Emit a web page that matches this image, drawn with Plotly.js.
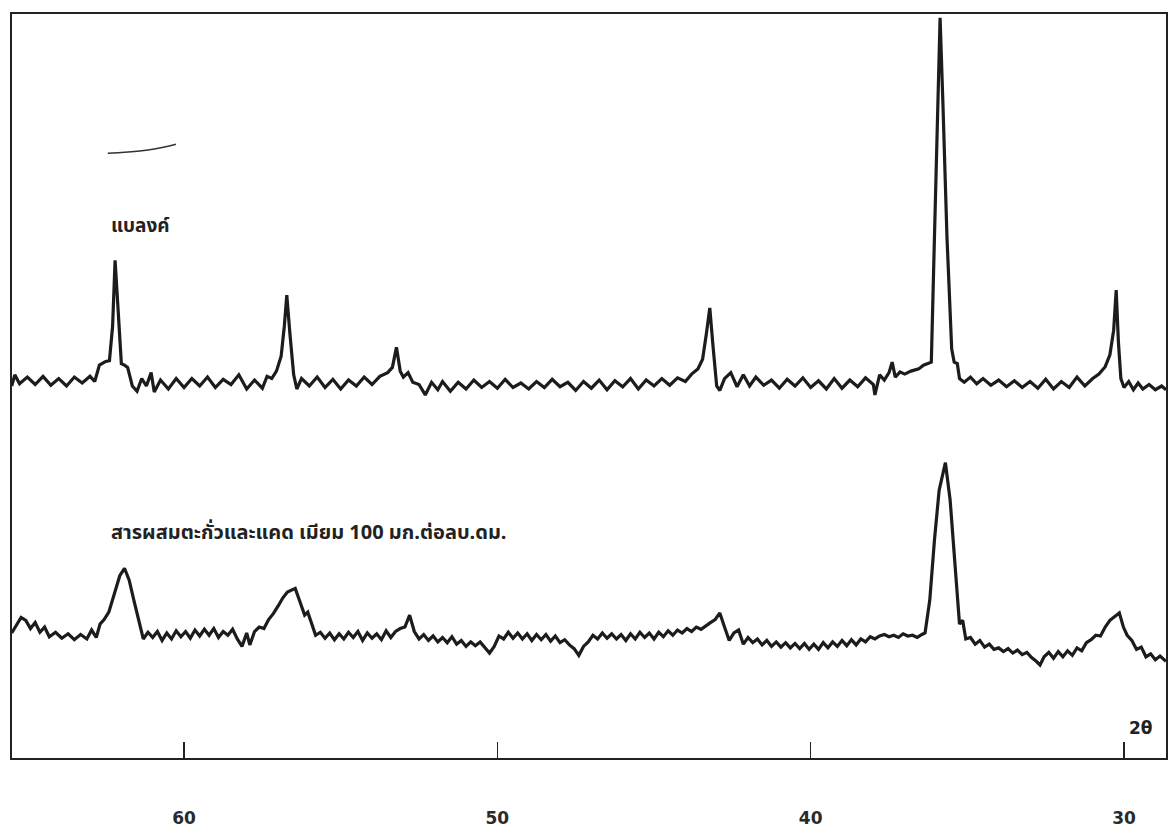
<!DOCTYPE html>
<html>
<head>
<meta charset="utf-8">
<script src="https://cdn.plot.ly/plotly-3.0.1.min.js"></script>
<style>
html,body{margin:0;padding:0;background:#fff;}
#chart{width:1169px;height:835px;}
</style>
</head>
<body>
<div id="chart"></div>
<script>
// 2θ (degrees) and relative intensity (arbitrary units)
const blankX = [65.50,65.40,65.25,65.00,64.75,64.50,64.25,64.00,63.75,63.50,63.25,63.00,62.85,62.70,62.50,62.38,62.28,62.20,62.10,62.00,61.90,61.80,61.65,61.50,61.35,61.20,61.05,60.95,60.75,60.50,60.25,60.00,59.75,59.50,59.25,59.00,58.75,58.50,58.25,58.00,57.75,57.50,57.35,57.20,57.05,56.90,56.80,56.72,56.62,56.50,56.40,56.25,56.00,55.75,55.50,55.25,55.00,54.75,54.50,54.25,54.00,53.75,53.50,53.35,53.22,53.10,53.00,52.85,52.70,52.50,52.30,52.10,51.90,51.75,51.50,51.25,51.00,50.75,50.50,50.25,50.00,49.75,49.50,49.25,49.00,48.75,48.50,48.25,48.00,47.75,47.50,47.25,47.00,46.75,46.50,46.25,46.00,45.75,45.50,45.25,45.00,44.75,44.50,44.25,44.00,43.80,43.60,43.45,43.33,43.22,43.12,43.00,42.90,42.75,42.55,42.35,42.15,41.95,41.75,41.50,41.25,41.00,40.75,40.50,40.25,40.00,39.75,39.50,39.25,39.00,38.75,38.50,38.25,38.00,37.95,37.80,37.65,37.50,37.40,37.30,37.15,37.00,36.80,36.55,36.40,36.25,36.15,36.05,35.95,35.87,35.78,35.65,35.50,35.42,35.32,35.25,35.10,34.90,34.70,34.50,34.25,34.00,33.75,33.50,33.25,33.00,32.75,32.50,32.25,32.00,31.75,31.50,31.25,31.00,30.80,30.60,30.45,30.33,30.25,30.18,30.10,30.00,29.85,29.70,29.55,29.40,29.20,29.00,28.80,28.66];
const blankY = [50.0,51.5,50.3,51.2,50.2,51.3,50.1,51.0,50.0,51.2,50.4,51.3,50.6,52.8,53.3,53.4,58.0,66.9,60.0,53.0,52.8,52.5,50.0,49.3,51.0,50.0,51.8,49.2,50.8,49.6,51.0,49.8,51.0,50.0,51.2,49.8,50.9,50.2,51.5,49.6,50.8,49.7,51.3,51.0,52.0,54.0,58.0,62.2,57.0,51.5,49.6,51.0,50.0,51.2,49.8,50.9,49.6,50.8,50.0,51.2,50.2,51.3,51.8,52.5,55.2,52.0,51.2,51.8,50.5,50.2,48.8,50.5,49.5,50.6,49.3,50.5,49.6,50.8,49.8,50.6,49.7,50.9,49.8,50.4,49.6,50.6,49.8,50.9,49.9,50.5,49.4,50.6,49.7,50.8,49.5,50.7,49.9,51.0,49.6,50.8,50.0,51.0,50.1,51.1,50.6,51.6,52.3,53.6,57.0,60.5,55.5,50.0,49.4,51.0,51.8,49.9,51.5,50.0,51.2,50.1,50.8,49.7,50.9,50.0,51.1,49.8,50.7,49.6,51.0,49.7,50.8,49.9,51.1,50.2,48.8,51.5,50.8,51.8,53.2,51.2,51.9,51.6,52.0,52.3,52.8,53.0,53.2,70.0,88.0,99.5,88.0,70.0,55.0,53.2,53.0,51.0,50.5,51.2,50.3,51.0,50.1,50.8,49.9,50.7,49.8,50.6,49.7,50.9,49.6,50.6,49.8,51.2,50.0,51.0,51.6,52.6,54.2,57.5,62.9,56.0,51.0,49.8,50.6,49.5,50.4,49.6,50.2,49.5,50.0,49.5];

const mixX = [65.50,65.35,65.20,65.05,64.90,64.75,64.60,64.45,64.30,64.10,63.90,63.70,63.50,63.30,63.10,62.95,62.80,62.68,62.55,62.40,62.20,62.05,61.90,61.75,61.60,61.45,61.30,61.15,61.00,60.85,60.70,60.55,60.40,60.25,60.10,59.95,59.80,59.65,59.50,59.35,59.20,59.05,58.90,58.75,58.60,58.45,58.30,58.15,58.00,57.90,57.75,57.60,57.45,57.30,57.15,57.00,56.85,56.70,56.45,56.30,56.15,56.05,55.92,55.80,55.65,55.50,55.35,55.20,55.05,54.90,54.75,54.60,54.45,54.30,54.15,54.00,53.85,53.70,53.55,53.40,53.25,53.10,52.95,52.80,52.65,52.50,52.35,52.20,52.05,51.90,51.75,51.60,51.45,51.30,51.15,51.00,50.85,50.70,50.55,50.40,50.25,50.10,49.95,49.80,49.65,49.50,49.35,49.20,49.05,48.90,48.75,48.60,48.45,48.30,48.15,48.00,47.85,47.70,47.55,47.40,47.25,47.10,46.95,46.80,46.65,46.50,46.35,46.20,46.05,45.90,45.75,45.60,45.45,45.30,45.15,45.00,44.85,44.70,44.55,44.40,44.25,44.10,43.95,43.80,43.65,43.50,43.35,43.20,43.05,42.90,42.75,42.60,42.45,42.30,42.15,42.00,41.85,41.70,41.55,41.40,41.25,41.10,40.95,40.80,40.65,40.50,40.35,40.20,40.05,39.90,39.75,39.60,39.45,39.30,39.15,39.00,38.85,38.70,38.55,38.40,38.25,38.10,37.95,37.80,37.65,37.50,37.35,37.20,37.05,36.90,36.75,36.60,36.45,36.35,36.20,36.05,35.90,35.70,35.55,35.40,35.25,35.15,35.05,34.90,34.75,34.60,34.45,34.30,34.15,34.00,33.85,33.70,33.55,33.40,33.25,33.10,32.95,32.80,32.68,32.55,32.40,32.25,32.10,31.95,31.80,31.65,31.50,31.35,31.20,31.05,30.90,30.75,30.60,30.45,30.30,30.15,30.02,29.90,29.75,29.60,29.45,29.30,29.15,29.00,28.85,28.66];
const mixY = [16.8,17.8,18.9,18.5,17.4,18.2,16.9,17.6,16.3,16.9,16.1,16.7,15.9,16.6,16.0,17.2,16.2,18.0,18.6,19.6,22.6,24.5,25.5,23.9,21.2,18.5,16.0,16.9,16.2,17.0,15.8,16.8,16.0,17.1,16.3,17.0,16.1,17.2,16.4,17.3,16.5,17.4,16.2,17.0,16.5,17.3,16.0,15.0,16.8,15.2,17.0,17.6,17.4,18.6,19.4,20.4,21.5,22.3,22.8,21.0,19.2,19.6,18.0,16.5,16.9,16.1,16.8,15.9,16.7,16.0,16.9,16.2,17.0,15.8,16.8,16.1,16.7,15.9,17.1,16.2,17.0,17.4,17.6,19.2,17.0,16.0,16.6,15.8,16.4,15.6,16.2,15.5,16.3,15.3,15.8,15.0,15.6,15.1,15.6,14.8,14.1,15.0,16.4,16.0,16.9,16.1,16.8,16.0,16.7,15.8,16.6,15.9,16.6,15.7,16.4,15.5,15.9,15.2,14.7,13.8,15.0,15.6,16.5,16.0,16.8,16.1,16.7,16.0,16.6,15.8,16.7,16.0,16.9,16.2,16.8,16.0,16.9,16.3,17.1,16.5,17.2,16.8,17.4,17.0,17.6,17.3,17.8,18.2,18.6,19.5,17.6,15.8,16.8,17.2,15.3,16.2,15.5,16.0,15.2,15.8,15.0,15.6,14.9,15.5,14.8,15.4,14.7,15.4,14.6,15.3,14.6,15.5,14.8,15.6,15.0,15.8,15.1,15.9,15.2,16.0,15.6,16.3,16.0,16.4,16.6,16.3,16.5,16.2,16.7,16.4,16.5,16.2,16.6,16.8,21.2,29.3,36.0,39.7,34.7,26.6,18.0,18.5,16.0,16.2,15.3,15.8,14.9,15.3,14.6,14.8,14.3,14.7,14.1,14.5,13.9,14.2,13.5,13.0,12.5,13.6,14.2,13.4,14.3,13.6,14.4,13.8,14.8,14.4,15.5,15.9,16.5,16.4,17.6,18.5,19.0,19.5,17.6,16.5,15.8,14.6,14.9,13.6,14.0,13.2,13.7,13.0];

const tickVals = [60, 50, 40, 30];
const tickText = ['60', '50', '40', '30'];
const labelBlank = 'แบลงค์';
const labelMix = 'สารผสมตะกั่วและแคด เมียม 100 มก.ต่อลบ.ดม.';
const axisLabel = '2θ';

const lineStyle = {color: '#1c1c1c', width: 3.2, shape: 'linear'};

const traces = [
  {x: blankX, y: blankY, type: 'scatter', mode: 'lines', line: lineStyle, name: labelBlank, hoverinfo: 'x+y'},
  {x: mixX, y: mixY, type: 'scatter', mode: 'lines', line: lineStyle, name: labelMix, hoverinfo: 'x+y'}
];

const thaiFont = '"Noto Sans Thai", "Noto Sans", "DejaVu Sans", sans-serif';

const layout = {
  width: 1169, height: 835,
  margin: {l: 12, r: 3, t: 14, b: 77},
  paper_bgcolor: '#ffffff', plot_bgcolor: '#ffffff',
  showlegend: false,
  font: {family: '"DejaVu Sans", sans-serif', color: '#222'},
  xaxis: {
    range: [65.49, 28.66],
    showgrid: false, zeroline: false,
    showline: true, mirror: true, linecolor: '#222', linewidth: 2,
    ticks: 'inside', ticklen: 16, tickwidth: 1.5, tickcolor: '#222',
    tickvals: tickVals, ticktext: tickText,
    tickfont: {size: 17, color: '#2a2a2a', family: '"DejaVu Sans", sans-serif', weight: 'bold'},
    ticklabelstandoff: 44
  },
  yaxis: {
    range: [0, 100],
    showgrid: false, zeroline: false,
    showline: true, mirror: true, linecolor: '#222', linewidth: 2,
    showticklabels: false, ticks: ''
  },
  annotations: [
    {text: labelBlank, x: 62.4, y: 71.5, xref: 'x', yref: 'y', xanchor: 'left', yanchor: 'middle', showarrow: false,
     font: {size: 19, color: '#222', family: thaiFont, weight: 'bold'}},
    {text: labelMix, x: 62.4, y: 30.2, xref: 'x', yref: 'y', xanchor: 'left', yanchor: 'middle', showarrow: false,
     font: {size: 20, color: '#222', family: thaiFont, weight: 'bold'}},
    {text: axisLabel, x: 29.45, y: 0, xref: 'x', yref: 'paper', xanchor: 'center', yanchor: 'bottom', yshift: 18, showarrow: false,
     font: {size: 17, color: '#222', family: '"DejaVu Sans", sans-serif', weight: 'bold'}}
  ],
  shapes: [
    {type: 'path', xref: 'paper', yref: 'paper', path: 'M 0.083 0.813 Q 0.12 0.815 0.142 0.825',
     line: {color: '#333', width: 1.5}}
  ]
};

Plotly.newPlot('chart', traces, layout, {displayModeBar: false, staticPlot: true});
</script>
</body>
</html>
